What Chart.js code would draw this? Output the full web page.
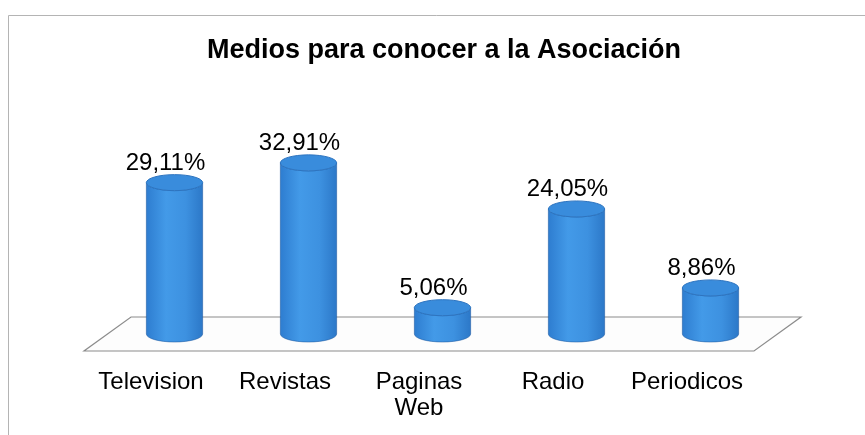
<!DOCTYPE html>
<html>
<head>
<meta charset="utf-8">
<title>Medios para conocer a la Asociación</title>
<script src="https://cdn.jsdelivr.net/npm/chart.js@4.4.0/dist/chart.umd.min.js"></script>
<style>
    html, body { margin: 0; padding: 0; background: #fff; }
    #wrap { width: 865px; height: 435px; }
</style>
</head>
<body>
<div id="wrap"><canvas id="mediosChart" width="865" height="435"></canvas></div>
<script>
// Survey data
const categories = [['Television'], ['Revistas'], ['Paginas', 'Web'], ['Radio'], ['Periodicos']];
const percentages = [29.11, 32.91, 5.06, 24.05, 8.86];
const chartTitle = 'Medios para conocer a la Asociación';

// Perspective offset of the floor (back edge relative to front edge)
const DEPTH_X = 47;
const DEPTH_Y = 34;
const FONT = "'Liberation Sans', Arial, sans-serif";

// Format a value the Spanish way: 29.11 -> "29,11%"
function formatPercent(v) {
    return v.toFixed(2).replace('.', ',') + '%';
}

// Thin frame and the title, centred on the frame rather than the plot
const framePlugin = {
    id: 'frame',
    beforeDraw(chart) {
        const ctx = chart.ctx;
        ctx.save();
        ctx.fillStyle = '#fff';
        ctx.fillRect(0, 0, chart.width, chart.height);
        ctx.strokeStyle = '#b4b4b4';
        ctx.lineWidth = 1;
        ctx.beginPath();
        ctx.moveTo(8.5, chart.height);
        ctx.lineTo(8.5, 15.5);
        ctx.lineTo(chart.width, 15.5);
        ctx.stroke();

        ctx.fillStyle = '#000';
        ctx.font = 'bold 27px ' + FONT;
        ctx.textAlign = 'center';
        ctx.textBaseline = 'alphabetic';
        ctx.fillText(chartTitle, 444, 58);
        ctx.restore();
    }
};

// Floor parallelogram under the cylinders
const floorPlugin = {
    id: 'floor3d',
    beforeDatasetsDraw(chart) {
        const { ctx, chartArea } = chart;
        const y0 = chart.scales.y.getPixelForValue(0);
        ctx.save();
        ctx.beginPath();
        ctx.moveTo(chartArea.left, y0);
        ctx.lineTo(chartArea.right, y0);
        ctx.lineTo(chartArea.right + DEPTH_X, y0 - DEPTH_Y);
        ctx.lineTo(chartArea.left + DEPTH_X, y0 - DEPTH_Y);
        ctx.closePath();
        ctx.fillStyle = '#fdfdfd';
        ctx.fill();
        ctx.strokeStyle = '#8c8c8c';
        ctx.lineWidth = 1.2;
        ctx.stroke();
        ctx.restore();
    }
};

// Draw every bar as a cylinder standing in the middle of the floor
const cylinderPlugin = {
    id: 'cylinders',
    afterDatasetsDraw(chart) {
        const ctx = chart.ctx;
        const meta = chart.getDatasetMeta(0);
        meta.data.forEach((bar, i) => {
            const rx = bar.width / 2;
            const ry = 8;
            const cx = bar.x + DEPTH_X / 2;
            const baseY = bar.base - DEPTH_Y / 2;
            const topY = bar.y - DEPTH_Y / 2;

            ctx.save();
            // body
            const grad = ctx.createLinearGradient(cx - rx, 0, cx + rx, 0);
            grad.addColorStop(0, '#2e7dd0');
            grad.addColorStop(0.35, '#439ae8');
            grad.addColorStop(0.7, '#3d91e0');
            grad.addColorStop(1, '#2c78c8');
            ctx.beginPath();
            ctx.moveTo(cx - rx, topY);
            ctx.lineTo(cx - rx, baseY);
            ctx.ellipse(cx, baseY, rx, ry, 0, Math.PI, 0, true);
            ctx.lineTo(cx + rx, topY);
            ctx.ellipse(cx, topY, rx, ry, 0, 0, Math.PI, false);
            ctx.closePath();
            ctx.fillStyle = grad;
            ctx.fill();
            ctx.strokeStyle = 'rgba(30, 90, 160, 0.55)';
            ctx.lineWidth = 1;
            ctx.stroke();

            // lid
            ctx.beginPath();
            ctx.ellipse(cx, topY, rx, ry, 0, 0, Math.PI * 2);
            ctx.fillStyle = '#398cdc';
            ctx.fill();
            ctx.strokeStyle = '#2d74c0';
            ctx.stroke();

            // value label, sitting a little left of the lid centre
            ctx.fillStyle = '#000';
            ctx.font = '24px ' + FONT;
            ctx.textAlign = 'center';
            ctx.textBaseline = 'alphabetic';
            ctx.fillText(formatPercent(percentages[i]), cx - 9, topY - ry - 5);
            ctx.restore();
        });
    }
};

const ctx = document.getElementById('mediosChart').getContext('2d');

new Chart(ctx, {
    type: 'bar',
    data: {
        labels: categories,
        datasets: [{
            data: percentages,
            backgroundColor: 'rgba(0,0,0,0)',
            borderWidth: 0,
            categoryPercentage: 1,
            barPercentage: 0.42
        }]
    },
    options: {
        responsive: false,
        animation: false,
        devicePixelRatio: 1,
        layout: {
            padding: { top: 169, left: 84, right: 111, bottom: 14 }
        },
        plugins: {
            legend: { display: false },
            tooltip: { enabled: false },
            title: { display: false }
        },
        scales: {
            x: {
                grid: { display: false, drawTicks: false },
                border: { display: false },
                ticks: {
                    color: '#000',
                    font: { family: FONT, size: 24, lineHeight: 1.1 },
                    padding: 18,
                    maxRotation: 0,
                    autoSkip: false
                },
                afterFit(scale) {
                    scale.height = 70;
                }
            },
            y: {
                display: false,
                min: 0,
                max: 35
            }
        }
    },
    plugins: [framePlugin, floorPlugin, cylinderPlugin]
});
</script>
</body>
</html>
